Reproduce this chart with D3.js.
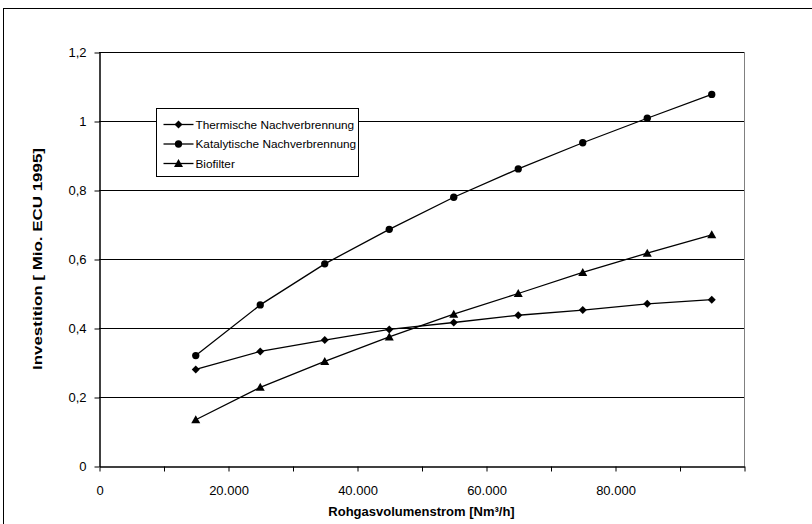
<!DOCTYPE html>
<html>
<head>
<meta charset="utf-8">
<script src="https://cdn.jsdelivr.net/npm/d3@7"></script>
<style>
  body { margin: 0; background: #fff; }
  svg { display: block; font-family: "Liberation Sans", Arial, sans-serif; }
</style>
</head>
<body>
<script>
var w = 812;
var h = 524;

// data
var volumen = [15000, 25000, 35000, 45000, 55000, 65000, 75000, 85000, 95000];
var thermisch = [0.280, 0.332, 0.365, 0.396, 0.416, 0.437, 0.452, 0.470, 0.482];
var katalytisch = [0.320, 0.467, 0.586, 0.686, 0.779, 0.861, 0.937, 1.008, 1.077];
var biofilter = [0.134, 0.228, 0.303, 0.374, 0.440, 0.500, 0.561, 0.617, 0.670];
var serien = ["Thermische Nachverbrennung", "Katalytische Nachverbrennung", "Biofilter"];
var yTicks = [0, 0.2, 0.4, 0.6, 0.8, 1, 1.2];
var xTicks = [0, 20000, 40000, 60000, 80000];
var xMinor = d3.range(0, 100001, 10000);

var pLeft = 99, pRight = 744, pTop = 52, pBottom = 466;

var svg = d3.select("body").append("svg")
  .attr("width", w)
  .attr("height", h);

// outer chart border (cut off at right and bottom)
svg.append("rect")
  .attr("x", 3.5)
  .attr("y", 8.5)
  .attr("width", 900)
  .attr("height", 600)
  .attr("fill", "none")
  .attr("stroke", "#000")
  .attr("stroke-width", 1);

var x = d3.scaleLinear().domain([0, 100000]).range([pLeft, pRight]);
var y = d3.scaleLinear().domain([0, 1.2]).range([pBottom, pTop]);

var fmtX = function(d) { return d === 0 ? "0" : d3.format(",")(d).replace(/,/g, "."); };
var fmtY = function(d) { return String(Math.round(d * 10) / 10).replace(".", ","); };

// gridlines
svg.append("g")
  .selectAll("line")
  .data(yTicks.slice(1))
  .enter()
  .append("line")
  .attr("x1", pLeft)
  .attr("x2", pRight)
  .attr("y1", function(d) { return Math.round(y(d)) + 0.5; })
  .attr("y2", function(d) { return Math.round(y(d)) + 0.5; })
  .attr("stroke", "#000")
  .attr("stroke-width", 1);

// right frame
svg.append("line")
  .attr("x1", pRight + 0.5)
  .attr("x2", pRight + 0.5)
  .attr("y1", pTop)
  .attr("y2", pBottom)
  .attr("stroke", "#808080");

// y axis
var yAxis = d3.axisLeft(y)
  .tickValues(yTicks)
  .tickSize(5)
  .tickSizeOuter(0)
  .tickPadding(8)
  .tickFormat(fmtY);

var gy = svg.append("g")
  .attr("transform", "translate(" + (pLeft + 0.5) + ",0.5)")
  .call(yAxis);
gy.select(".domain").attr("stroke", "#000").attr("stroke-width", 1.5);
gy.selectAll("text").attr("font-size", 13).attr("fill", "#000").attr("font-family", "Liberation Sans, Arial, sans-serif");

// x axis
var xAxis = d3.axisBottom(x)
  .tickValues(xMinor)
  .tickSize(5)
  .tickSizeOuter(0)
  .tickPadding(14)
  .tickFormat(function(d) { return xTicks.indexOf(d) >= 0 ? fmtX(d) : ""; });

var gx = svg.append("g")
  .attr("transform", "translate(0.5," + (pBottom + 0.5) + ")")
  .call(xAxis);
gx.select(".domain").attr("stroke", "#000").attr("stroke-width", 1.5);
gx.selectAll("text").attr("font-size", 13).attr("fill", "#000").attr("font-family", "Liberation Sans, Arial, sans-serif");

// axis titles
svg.append("text")
  .attr("x", (pLeft + pRight) / 2)
  .attr("y", 516)
  .attr("text-anchor", "middle")
  .attr("font-size", 13)
  .attr("font-weight", "bold")
  .text("Rohgasvolumenstrom [Nm³/h]");

// the reference stretches the rotated title along its length
svg.append("text")
  .attr("transform", "translate(42," + ((pTop + pBottom) / 2) + ") rotate(-90)")
  .attr("text-anchor", "middle")
  .attr("font-size", 13.5)
  .attr("font-weight", "bold")
  .attr("textLength", 222)
  .attr("lengthAdjust", "spacingAndGlyphs")
  .text("Investition [ Mio. ECU 1995]");

// markers
var marker = [
  "M0,-4L4,0L0,4L-4,0Z",
  d3.symbol().type(d3.symbolCircle).size(42)(),
  "M0,-4.5L4.5,3.5L-4.5,3.5Z"
];

var alle = [thermisch, katalytisch, biofilter];

var line = d3.line()
  .x(function(d, i) { return x(volumen[i]); })
  .y(function(d) { return y(d); });

alle.forEach(function(werte, k) {
  svg.append("path")
    .datum(werte)
    .attr("d", line)
    .attr("fill", "none")
    .attr("stroke", "#000")
    .attr("stroke-width", 1.3);

  svg.append("g")
    .selectAll("path")
    .data(werte)
    .enter()
    .append("path")
    .attr("d", marker[k])
    .attr("transform", function(d, i) { return "translate(" + x(volumen[i]) + "," + y(d) + ")"; })
    .attr("fill", "#000");
});

// legend
var legend = svg.append("g").attr("transform", "translate(156.5,108.5)");

legend.append("rect")
  .attr("width", 202)
  .attr("height", 68)
  .attr("fill", "#fff")
  .attr("stroke", "#000");

var rows = legend.selectAll("g.row")
  .data(serien)
  .enter()
  .append("g")
  .attr("class", "row")
  .attr("transform", function(d, i) { return "translate(0," + (16 + i * 19.5) + ")"; });

rows.append("line")
  .attr("x1", 7)
  .attr("x2", 37)
  .attr("stroke", "#000")
  .attr("stroke-width", 1.3);

rows.append("path")
  .attr("d", function(d, i) { return marker[i]; })
  .attr("transform", "translate(22,0)")
  .attr("fill", "#000");

rows.append("text")
  .attr("x", 39)
  .attr("dy", "0.35em")
  .attr("font-size", 11.8)
  .text(function(d) { return d; });
</script>
</body>
</html>
